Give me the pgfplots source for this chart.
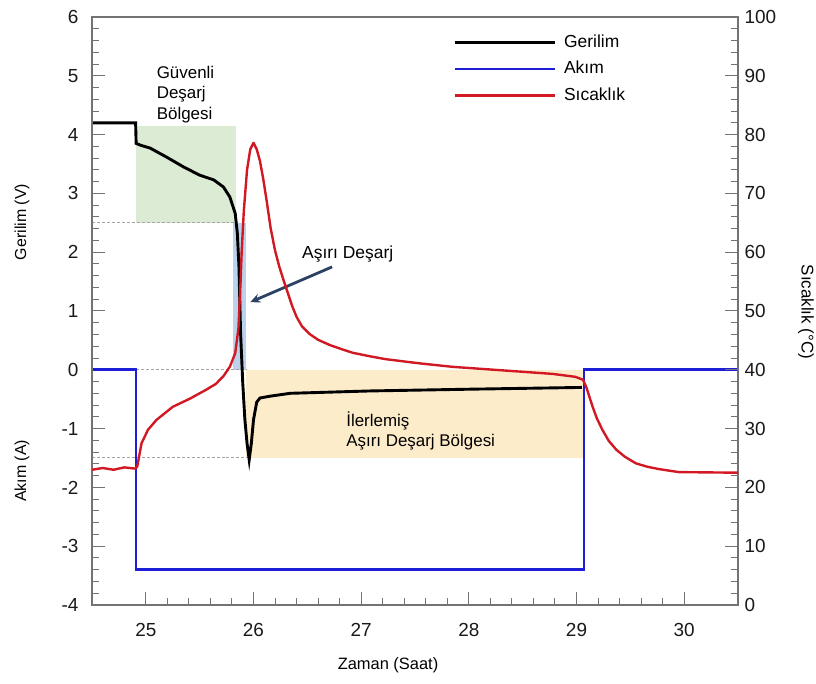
\documentclass[border=0pt]{standalone}
\usepackage{fontspec}
\setmainfont{Liberation Sans}
\usepackage{pgfplots}
\pgfplotsset{compat=1.18}
\usetikzlibrary{arrows.meta}
\definecolor{cBlue}{RGB}{30,30,215}
\definecolor{cRed}{RGB}{210,25,35}
\definecolor{fGreen}{RGB}{220,236,212}
\definecolor{fBlue}{RGB}{188,210,234}
\definecolor{fOrange}{RGB}{253,236,202}
\definecolor{axgray}{RGB}{115,115,115}
\definecolor{arrowc}{RGB}{45,65,100}
\definecolor{dashc}{RGB}{165,165,165}

\begin{document}
\begin{tikzpicture}[x=1bp,y=1bp]
\useasboundingbox (-92,-79) rectangle (724,605);
\pgfplotsset{
  base/.style={
    scale only axis, width=646bp, height=588bp,
    at={(0,0)}, anchor=south west,
    xmin=24.5, xmax=30.5,
    axis line style={axgray, line width=1.3bp},
    tick style={axgray, line width=1bp},
    major tick length=13bp, minor tick length=7bp,
    tick align=inside,
    /pgf/number format/assume math mode=true,
    tick label style={font=\fontsize{19}{21}\selectfont, text=black!90},
  }
}
\begin{axis}[base,
  ymin=-4, ymax=6, ytick={-4,-3,...,6}, minor y tick num=4,
  xtick={25,26,...,30}, minor x tick num=4,
  xtick pos=bottom, ytick pos=left,
  xticklabel style={yshift=-15bp},
  yticklabel style={xshift=-10bp}]
  % shaded regions
  \addplot[draw=none, fill=fGreen] coordinates {(24.91,2.5) (25.84,2.5) (25.84,4.15) (24.91,4.15)} -- cycle;
  \addplot[draw=none, fill=fBlue] coordinates {(25.81,0) (25.93,0) (25.93,2.5) (25.81,2.5)} -- cycle;
  \addplot[draw=none, fill=fOrange] coordinates {(25.93,-1.5) (29.06,-1.5) (29.06,0) (25.93,0)} -- cycle;
  % dashed guides
  \addplot[dashc, densely dashed, line width=1bp] coordinates {(24.5,2.5) (25.84,2.5)};
  \addplot[dashc, densely dashed, line width=1bp] coordinates {(24.91,0) (25.93,0)};
  \addplot[dashc, densely dashed, line width=1bp] coordinates {(24.5,-1.5) (25.96,-1.5)};
  % current
  \addplot[cBlue, line width=2.6bp] coordinates {
    (24.5,0) (24.91,0) (24.91,-3.4) (29.07,-3.4) (29.07,0) (30.5,0)};
  % voltage
  \addplot[black, line width=2.9bp] coordinates {
    (24.5,4.20) (24.905,4.20) (24.91,3.85) (24.95,3.82) (25.04,3.77) (25.19,3.62)
    (25.35,3.45) (25.50,3.31) (25.63,3.23) (25.72,3.11) (25.78,2.94) (25.83,2.66)
    (25.85,2.32) (25.865,1.75) (25.88,0.63) (25.90,-0.22) (25.92,-0.85) (25.94,-1.25)
    (25.96,-1.53) (25.98,-1.25) (26.00,-0.85) (26.03,-0.55) (26.06,-0.48) (26.15,-0.45)
    (26.34,-0.40) (27.08,-0.36) (28.01,-0.33) (29.05,-0.30)};
  % annotations
  \node[anchor=base west, align=left, inner sep=0, font=\fontsize{17}{21}\selectfont]
    at (axis cs:25.10,4.25) {Güvenli\\Deşarj\\Bölgesi};
  \node[anchor=base west, align=left, inner sep=0, font=\fontsize{17}{20}\selectfont]
    at (axis cs:26.86,-1.31) {İlerlemiş\\Aşırı Deşarj Bölgesi};
  \node[anchor=base west, inner sep=0, font=\fontsize{17.5}{20}\selectfont]
    at (axis cs:26.45,1.90) {Aşırı Deşarj};
  \draw[arrowc, line width=2.8bp, -{Stealth[length=10bp,width=9bp]}]
    (axis cs:26.73,1.75) -- (axis cs:25.97,1.15);
\end{axis}
\begin{axis}[base,
  ymin=0, ymax=100, ytick={0,10,...,100}, minor y tick num=4,
  axis x line=none, ytick pos=right,
  yticklabel style={xshift=3bp},
  legend style={at={(0.5588,0.9745)}, anchor=north west, draw=none, fill=none,
    inner sep=0pt, font=\fontsize{17.5}{20}\selectfont,
    nodes={inner sep=2bp, text height=13bp, text depth=4bp}, row sep=5.5bp,
    column sep=6bp},
  legend cell align=left,
  legend image code/.code={\draw[#1] (0bp,0bp) -- (100bp,0bp);}]
  \addlegendimage{black, line width=2.9bp}
  \addlegendentry{Gerilim}
  \addlegendimage{cBlue, line width=2.6bp}
  \addlegendentry{Akım}
  \addplot[cRed, line width=2.4bp, line join=round] coordinates {
    (24.5,23.0) (24.6,23.3) (24.7,23.0) (24.8,23.4) (24.9,23.2) (24.92,23.5)
    (24.94,25.5) (24.96,27.5) (25.02,29.8) (25.10,31.5) (25.25,33.7) (25.41,35.1)
    (25.56,36.6) (25.65,37.6) (25.72,38.9) (25.78,40.5) (25.83,42.8) (25.86,47.0)
    (25.88,55.0) (25.89,60.0) (25.91,67.0) (25.94,74.0) (25.97,77.5) (26.00,78.6)
    (26.03,77.5) (26.06,75.5) (26.09,72.5) (26.12,69.0) (26.16,64.0) (26.20,60.3)
    (26.24,57.5) (26.28,55.2) (26.32,53.0) (26.36,50.8) (26.40,49.0) (26.45,47.4)
    (26.52,46.1) (26.60,45.1) (26.71,44.2) (26.82,43.5) (26.92,42.9) (27.08,42.3)
    (27.23,41.8) (27.54,41.1) (27.85,40.5) (28.16,40.1) (28.47,39.7) (28.78,39.3)
    (28.99,38.8) (29.06,38.3) (29.09,37.1) (29.12,35.4) (29.15,33.7) (29.19,31.7)
    (29.24,29.8) (29.30,27.9) (29.37,26.4) (29.45,25.2) (29.55,24.1) (29.66,23.5)
    (29.77,23.1) (29.95,22.6) (30.5,22.5)};
  \addlegendentry{Sıcaklık}
\end{axis}
\node[rotate=90, font=\fontsize{16}{18}\selectfont] at (-70,383) {Gerilim (V)};
\node[rotate=90, font=\fontsize{16}{18}\selectfont] at (-70,134) {Akım (A)};
\node[font=\fontsize{16.5}{18}\selectfont] at (296,-60) {Zaman (Saat)};
\node[rotate=-90, font=\fontsize{17}{18}\selectfont] at (714,293) {Sıcaklık (°C)};
\end{tikzpicture}
\end{document}
